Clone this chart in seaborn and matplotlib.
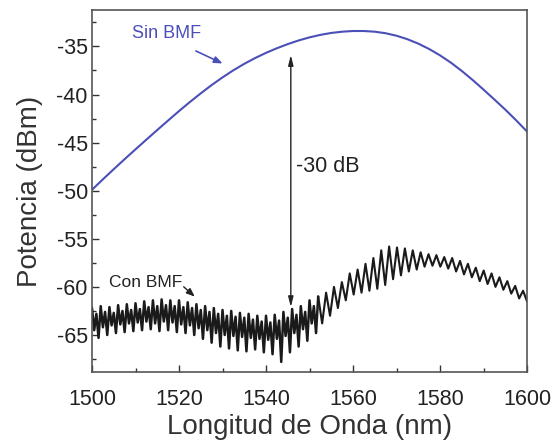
import numpy as np
import pandas as pd
import matplotlib
matplotlib.use("Agg")
import matplotlib.pyplot as plt
import seaborn as sns

# ---- data ----
sin_x = [1500, 1502.5, 1505, 1507.5, 1510, 1512.5, 1515, 1517.5, 1520, 1522.5,
         1525, 1527.5, 1530, 1532.5, 1535, 1537.5, 1540, 1542.5, 1545, 1547.5,
         1550, 1552.5, 1555, 1557.5, 1560, 1562.5, 1565, 1567.5, 1570, 1572.5,
         1575, 1577.5, 1580, 1582.5, 1585, 1587.5, 1590, 1592.5, 1595, 1597.5, 1600]
sin_y = [-49.9, -48.82, -47.76, -46.72, -45.70, -44.69, -43.69, -42.70, -41.72, -40.78,
         -39.88, -39.02, -38.22, -37.48, -36.81, -36.21, -35.67, -35.19, -34.76, -34.38,
         -34.06, -33.80, -33.60, -33.47, -33.40, -33.40, -33.47, -33.63, -33.89, -34.25,
         -34.71, -35.27, -35.93, -36.69, -37.55, -38.49, -39.49, -40.52, -41.57, -42.68, -43.85]

# Con BMF, dense part 1500-1551.5 nm (0.5 nm step)
con_y1 = [
    -62.2, -64.5, -62.8, -65.3,  -62.0, -64.2, -62.6, -65.0,
    -62.1, -64.0, -62.7, -64.8,  -61.9, -63.9, -62.5, -64.7,
    -61.8, -63.8, -62.4, -64.6,  -61.7, -63.7, -62.3, -64.5,
    -61.5, -63.6, -62.1, -64.4,  -61.4, -63.8, -62.0, -64.6,
    -61.3, -63.6, -61.9, -64.5,  -61.4, -63.7, -62.0, -64.7,
    -61.4, -63.9, -62.1, -64.8,  -61.6, -64.0, -62.2, -65.0,
    -61.8, -64.3, -62.4, -65.4,  -62.0, -64.5, -62.6, -65.8,
    -62.2, -64.8, -62.8, -66.2,  -62.4, -65.0, -63.0, -66.4,
    -62.5, -65.1, -63.1, -66.6,  -62.7, -65.2, -63.2, -66.7,
    -62.8, -65.3, -63.4, -66.5,  -63.0, -65.4, -63.6, -66.8,
    -63.0, -65.5, -63.7, -67.0,  -62.9, -65.4, -63.5, -67.8,
    -62.6, -65.1, -63.2, -66.8,  -62.3, -64.8, -62.9, -66.2,
    -62.0, -64.4, -62.6, -65.6,  -61.4, -63.8, -62.0, -64.8,
]
# Con BMF, fringe part 1552-1600 nm (peaks / troughs)
con_y2 = [
    -61.0, -63.8, -60.6, -63.0, -60.0, -62.2, -59.5, -61.4, -58.6, -60.8,
    -58.2, -60.6, -57.6, -60.4, -57.0, -60.2, -56.2, -59.8, -55.8, -59.2,
    -55.9, -58.8, -56.0, -58.4, -56.2, -58.2, -56.4, -57.9, -56.6, -57.8,
    -56.7, -57.9, -56.9, -58.1, -57.0, -58.4, -57.3, -58.7, -57.6, -59.0,
    -58.0, -59.4, -58.3, -59.7, -58.6, -60.0, -59.0, -60.3, -59.4, -60.7,
    -59.9, -61.2, -60.4, -61.5,
]

x_ticks = [1500, 1520, 1540, 1560, 1580, 1600]
y_ticks = [-65, -60, -55, -50, -45, -40, -35]

sns.set_style("ticks")
plt.rcParams["font.family"] = ["Liberation Sans", "DejaVu Sans"]
plt.rcParams["axes.unicode_minus"] = False

con_x1 = 1500 + 0.5 * np.arange(len(con_y1))
con_x2 = np.linspace(1552, 1600, len(con_y2))
df_sin = pd.DataFrame({"x": sin_x, "y": sin_y})
df_con1 = pd.DataFrame({"x": np.append(con_x1, con_x2[0]), "y": con_y1 + [con_y2[0]]})
df_con2 = pd.DataFrame({"x": con_x2, "y": con_y2})

fig = plt.figure(figsize=(5.53, 4.48), dpi=100)
ax = fig.add_axes([0.1664, 0.1696, 0.953 - 0.1664, 0.978 - 0.1696])

blue = "#4b4fb8"
sns.lineplot(data=df_sin, x="x", y="y", ax=ax, color=blue, lw=1.5,
             sort=False, estimator=None)
sns.lineplot(data=df_con1, x="x", y="y", ax=ax, color="#1a1a1a", lw=1.8,
             sort=False, estimator=None)
sns.lineplot(data=df_con2, x="x", y="y", ax=ax, color="#1a1a1a", lw=1.5,
             sort=False, estimator=None)

ax.set_xlim(1500, 1600)
ax.set_ylim(-68.85, -31.2)
ax.set_xticks(x_ticks)
ax.set_yticks(y_ticks)
ax.set_xticks(np.arange(1510, 1600, 20), minor=True)
ax.set_yticks(np.arange(-67.5, -31, 5), minor=True)
ax.tick_params(axis="both", which="major", direction="in", length=5,
               width=1.0, labelsize=15.5, colors="#333333", labelcolor="#222222")
ax.tick_params(axis="x", which="major", pad=12)
ax.tick_params(axis="y", which="major", pad=3)
ax.tick_params(axis="both", which="minor", direction="in", length=3,
               width=1.0, colors="#333333")
for s in ax.spines.values():
    s.set_color("#555555")
    s.set_linewidth(1.2)

ax.set_xlabel("Longitud de Onda (nm)", fontsize=20, color="#333333", labelpad=3)
ax.set_ylabel("Potencia (dBm)", fontsize=20, color="#333333", labelpad=10)

# annotations
ax.text(1517.2, -33.7, "Sin BMF", color=blue, fontsize=13, ha="center", va="center")
ax.annotate("", xy=(1530.6, -36.9), xytext=(1523.3, -35.35),
            arrowprops=dict(arrowstyle="-|>,head_length=0.5,head_width=0.2",
                            color=blue, lw=1.2))
ax.text(1512.4, -59.5, "Con BMF", color="#222222", fontsize=12.5, ha="center", va="center")
ax.annotate("", xy=(1524.1, -61.2), xytext=(1520.6, -59.8),
            arrowprops=dict(arrowstyle="-|>,head_length=0.5,head_width=0.2",
                            color="#222222", lw=1.0))
ax.annotate("", xy=(1545.7, -35.9), xytext=(1545.7, -62.1),
            arrowprops=dict(arrowstyle="<|-|>,head_length=0.6,head_width=0.15",
                            color="#222222", lw=1.0, shrinkA=0, shrinkB=0))
ax.text(1547.0, -47.5, "-30 dB", color="#222222", fontsize=15.5, ha="left", va="center")

fig.savefig("out.png", dpi=100)
